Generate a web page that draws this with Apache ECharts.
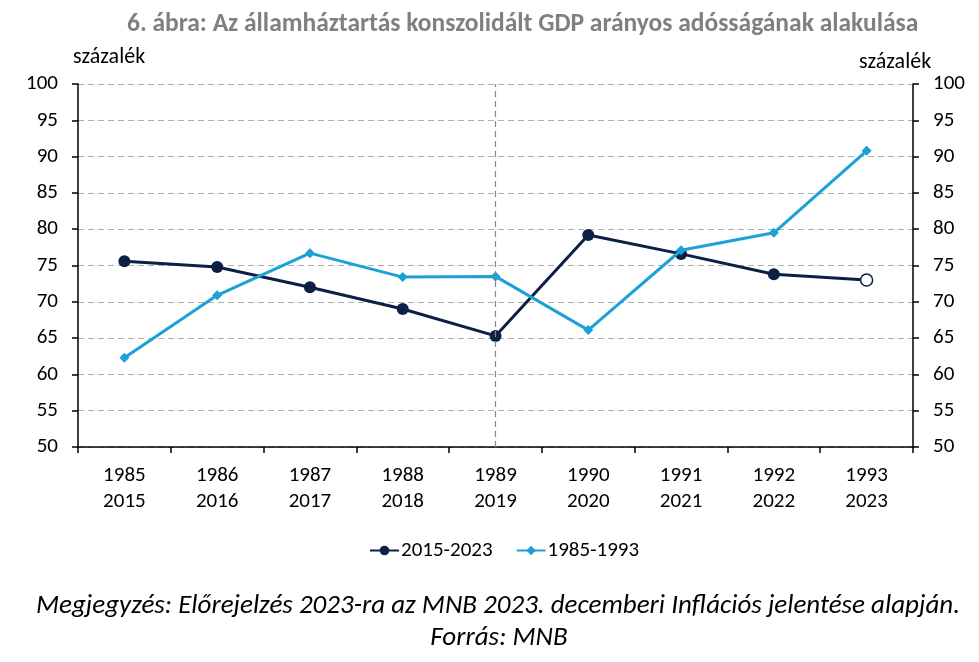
<!DOCTYPE html>
<html><head><meta charset="utf-8">
<script src="https://cdn.jsdelivr.net/npm/echarts@6/dist/echarts.min.js"></script>
<style>html,body{margin:0;padding:0;background:#fff}#c{width:979px;height:662px}</style>
</head><body><div id="c"></div>
<script>
const yearsOld = ['1985','1986','1987','1988','1989','1990','1991','1992','1993'];
const yearsNew = ['2015','2016','2017','2018','2019','2020','2021','2022','2023'];
const series2015 = [75.6, 74.8, 72.0, 69.0, 65.3, 79.2, 76.6, 73.8, 73.0];
const series1985 = [62.3, 70.9, 76.7, 73.4, 73.5, 66.1, 77.1, 79.5, 90.8];
const yTicks = [50, 55, 60, 65, 70, 75, 80, 85, 90, 95, 100];
const categories = yearsOld.map((y, i) => y + '\n' + yearsNew[i]);
const FONT = 'Carlito, Lato, "Noto Sans", sans-serif';
const DARK = '#0c1f45', LIGHT = '#1ba1d8';

const chart = echarts.init(document.getElementById('c'));
const yAxisBase = {
  type: 'value', min: yTicks[0], max: yTicks[yTicks.length-1], interval: 5,
  axisLine: {show: true, lineStyle: {color: '#000', width: 1.5}},
  axisTick: {show: true, length: 6, lineStyle: {color: '#000', width: 1.5}},
  axisLabel: {color: '#000', fontSize: 21, fontFamily: FONT, margin: 20},
};
chart.setOption({
  animation: false,
  title: {
    text: '6. ábra: Az államháztartás konszolidált GDP arányos adósságának alakulása',
    left: 122, top: 7,
    textStyle: {fontSize: 25.5, fontWeight: 'bold', color: '#808080', fontFamily: FONT}
  },
  graphic: [
    {type: 'text', left: 73, top: 46, style: {text: 'százalék', fontSize: 22, fontFamily: FONT, fill: '#000'}},
    {type: 'text', left: 859, top: 51, style: {text: 'százalék', fontSize: 22, fontFamily: FONT, fill: '#000'}},
    {type: 'text', x: 498, y: 593, style: {text: 'Megjegyzés: Előrejelzés 2023-ra az MNB 2023. decemberi Inflációs jelentése alapján.', align: 'center', fontSize: 27, fontStyle: 'italic', fontFamily: FONT, fill: '#000'}},
    {type: 'text', x: 499, y: 625, style: {text: 'Forrás: MNB', align: 'center', fontSize: 27, fontStyle: 'italic', fontFamily: FONT, fill: '#000'}}
  ],
  legend: {
    top: 535, left: 364, itemGap: 23, itemWidth: 29, itemHeight: 12,
    textStyle: {fontSize: 21, fontFamily: FONT, color: '#000', padding: [0, 0, 0, -3]},
    data: ['2015-2023', '1985-1993']
  },
  grid: {left: 78, right: 66, top: 84, bottom: 215},
  xAxis: {
    type: 'category', data: categories, boundaryGap: true,
    axisLine: {lineStyle: {color: '#000', width: 1.5}},
    axisTick: {show: true, length: 6, lineStyle: {color: '#000', width: 1.5}},
    axisLabel: {color: '#000', fontSize: 21, fontFamily: FONT, lineHeight: 26, margin: 16}
  },
  yAxis: [
    Object.assign({}, yAxisBase, {position: 'left',
      splitLine: {show: true, lineStyle: {color: '#b0b0b0', type: [6, 4], width: 1}}}),
    Object.assign({}, yAxisBase, {position: 'right', splitLine: {show: false}})
  ],
  series: [
    {
      name: '2015-2023', type: 'line', yAxisIndex: 0,
      data: series2015.map((v, i) => i === series2015.length - 1
        ? {value: v, itemStyle: {color: '#fff', borderColor: DARK, borderWidth: 1.5}}
        : v),
      symbol: 'circle', symbolSize: 12,
      lineStyle: {color: DARK, width: 3},
      itemStyle: {color: DARK},
      z: 3,
      markLine: {
        silent: true, symbol: ['none', 'none'], label: {show: false},
        lineStyle: {color: '#888', type: [6, 4], width: 1.2},
        data: [{xAxis: categories[4]}]
      }
    },
    {
      name: '1985-1993', type: 'line', yAxisIndex: 0,
      data: series1985,
      symbol: 'diamond', symbolSize: 10,
      lineStyle: {color: LIGHT, width: 3},
      itemStyle: {color: LIGHT},
      z: 4
    }
  ]
});
</script></body></html>
